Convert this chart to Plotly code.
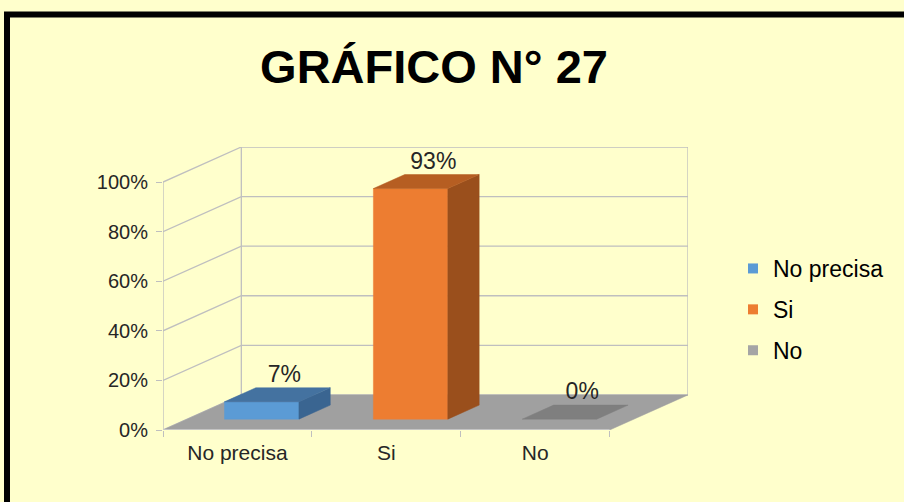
import plotly.graph_objects as go

# ---- data ----
categories = ["No precisa", "Si", "No"]
values = [0.07, 0.93, 0.00]
front_colors = ["#5B9BD5", "#ED7D31", "#A5A5A5"]
top_colors = ["#4472A0", "#B65E22", "#7F7F7F"]
side_colors = ["#3A6591", "#9A4F1C", "#7F7F7F"]
y_ticks = [0, 0.2, 0.4, 0.6, 0.8, 1.0]
title_text = "GRÁFICO N° 27"

# ---- pseudo-3D projection (oblique) ----
DX = 0.526   # horizontal shift of full depth, in category units
DY = 0.1414  # vertical shift of full depth, in value units
D0, D1 = 0.31, 0.71  # bar depth span
BW = 0.5            # bar width

W, H = 904, 502
L, R, T, B = 163, 216, 147, 72
PW, PH = W - L - R, H - T - B
BG = "#FFFFCC"
GRID = "#BFBFBF"
FONT = "Liberation Sans, Arial, sans-serif"


def P(x, v, d):
    return x + d * DX, v + d * DY


def poly(pts, color):
    xs = [p[0] for p in pts] + [pts[0][0]]
    ys = [p[1] for p in pts] + [pts[0][1]]
    return go.Scatter(x=xs, y=ys, mode="lines", fill="toself", fillcolor=color,
                      line=dict(width=0.5, color=color), hoverinfo="skip",
                      showlegend=False)


def line(pts, color=GRID, width=1.3):
    return go.Scatter(x=[p[0] for p in pts], y=[p[1] for p in pts], mode="lines",
                      line=dict(color=color, width=width), hoverinfo="skip",
                      showlegend=False)


fig = go.Figure()
n = len(categories)

# gridlines on left and back walls
for v in y_ticks:
    fig.add_trace(line([P(0, v, 0), P(0, v, 1), P(n, v, 1)]))
fig.add_trace(line([P(0, 0, 1), P(0, 1, 1)]))
fig.add_trace(line([P(n, 0, 1), P(n, 1, 1)]))

# floor
fig.add_trace(poly([P(0, 0, 0), P(n, 0, 0), P(n, 0, 1), P(0, 0, 1)], "#A0A0A0"))
fig.add_trace(line([P(0, 0, 0), P(0, 1, 0)]))
fig.add_trace(line([P(0, 0, 0), P(n, 0, 0)], color="#D0D0D0"))

# bars
for i, (c, v) in enumerate(zip(categories, values)):
    x0 = i + 0.5 - BW / 2
    x1 = i + 0.5 + BW / 2
    front = [P(x0, 0, D0), P(x1, 0, D0), P(x1, v, D0), P(x0, v, D0)]
    side = [P(x1, 0, D0), P(x1, 0, D1), P(x1, v, D1), P(x1, v, D0)]
    top = [P(x0, v, D0), P(x1, v, D0), P(x1, v, D1), P(x0, v, D1)]
    if v > 0:
        fig.add_trace(poly(front, front_colors[i]))
        fig.add_trace(poly(side, side_colors[i]))
    fig.add_trace(poly(top, top_colors[i]))

# data labels
lx = [i + 0.5 + 0.6 * DX for i in range(n)]
ly = [v + D1 * DY for v in values]
fig.add_trace(go.Scatter(x=lx, y=ly, mode="text",
                         text=[f"{round(v * 100)}%" for v in values],
                         textposition="top center",
                         textfont=dict(family=FONT, size=23, color="#262626"),
                         hoverinfo="skip", showlegend=False))

# legend entries
for i, c in enumerate(categories):
    fig.add_trace(go.Scatter(x=[None], y=[None], mode="markers", name=c,
                             legendgroup=c,
                             marker=dict(symbol="square", size=10,
                                         color=front_colors[i]),
                             showlegend=True))


def px_x(p):
    return (p - L) / PW


def px_y(p):
    return (H - B - p) / PH


fig.update_layout(
    width=W, height=H, autosize=False,
    margin=dict(l=L, r=R, t=T, b=B),
    paper_bgcolor=BG, plot_bgcolor=BG,
    title=dict(text=f"<b>{title_text}</b>", x=434 / W, xanchor="center",
               xref="container", yref="container", y=1 - 67 / H, yanchor="middle",
               font=dict(family=FONT, size=47, color="#000000")),
    xaxis=dict(range=[0, n + DX], tickvals=[i + 0.5 for i in range(n)],
               ticktext=categories, ticks="", showgrid=False, zeroline=False,
               showline=False, fixedrange=True, ticklabelstandoff=8,
               tickfont=dict(family=FONT, size=21, color="#262626"),
               minor=dict(tickvals=list(range(n + 1)), ticks="outside",
                          ticklen=6, tickcolor=GRID, tickwidth=1.3,
                          showgrid=False)),
    yaxis=dict(range=[0, 1 + DY], tickvals=y_ticks, tickformat=".0%",
               ticks="outside", ticklen=6, tickcolor=GRID, tickwidth=1.3,
               showgrid=False, zeroline=False, showline=False, fixedrange=True,
               ticklabelstandoff=4,
               tickfont=dict(family=FONT, size=20, color="#262626")),
    legend=dict(x=px_x(733), y=px_y(247), xanchor="left", yanchor="top",
                traceorder="grouped", tracegroupgap=8, bgcolor="rgba(0,0,0,0)",
                font=dict(family=FONT, size=23, color="#000000"),
                itemwidth=30),
    shapes=[dict(type="rect", xref="paper", yref="paper",
                 x0=px_x(7), x1=px_x(930), y0=px_y(14.5), y1=px_y(530),
                 line=dict(color="#000000", width=6), fillcolor="rgba(0,0,0,0)",
                 layer="above")],
    hovermode=False,
)

fig.write_html("out.html", config={"displayModeBar": False},
               post_script="document.body.style.margin='0';"
                           "document.body.style.padding='0';")
